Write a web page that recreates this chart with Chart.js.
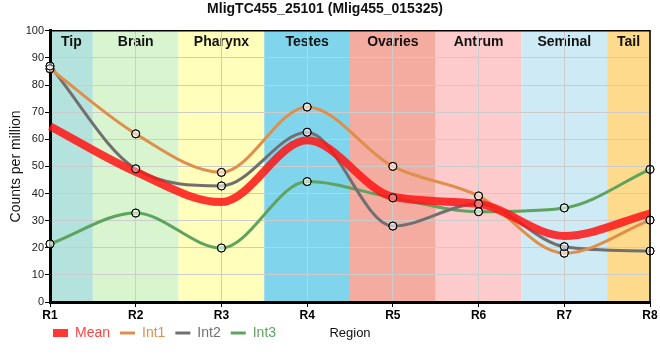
<!DOCTYPE html>
<html>
<head>
<meta charset="utf-8">
<script src="https://cdn.jsdelivr.net/npm/chart.js@4"></script>
<style>
  html, body { margin: 0; padding: 0; background: #fff; }
  #wrap { width: 660px; height: 360px; }
</style>
</head>
<body>
<div id="wrap"><canvas id="chart"></canvas></div>
<script>
const regions = ['R1', 'R2', 'R3', 'R4', 'R5', 'R6', 'R7', 'R8'];
const tissues = ['Tip', 'Brain', 'Pharynx', 'Testes', 'Ovaries', 'Antrum', 'Seminal', 'Tail'];
const tissueColors = ['#b4e3dd', '#d8f5d0', '#ffffbb', '#80d4ec', '#f5aca0', '#fdcbcb', '#ceebf5', '#fdda8c'];

const int1 = [86, 62, 47.8, 71.9, 50, 39.1, 18, 30.2];
const int2 = [87, 49.1, 42.8, 62.6, 28, 36.2, 20.4, 18.8];
const int3 = [21.4, 32.8, 19.9, 44.4, 38.4, 33.3, 34.7, 48.9];
const mean = int1.map((v, i) => (v + int2[i] + int3[i]) / 3);

const yTicks = [0, 10, 20, 30, 40, 50, 60, 70, 80, 90, 100];

const FONT = "'Liberation Sans', Arial, sans-serif";

// coloured tissue bands behind the grid
const bandsPlugin = {
  id: 'bands',
  afterLayout(chart) {
    // legend sits under the plot, starting near the y axis
    chart.legend.left = 43;
    chart.legend.top = chart.chartArea.bottom + 14;
  },
  beforeDraw(chart) {
    const { ctx, chartArea: a, scales: { x } } = chart;
    ctx.save();
    tissues.forEach((name, i) => {
      const l = Math.max(a.left, x.getPixelForValue(i - 0.5));
      const r = Math.min(a.right, x.getPixelForValue(i + 0.5));
      ctx.fillStyle = tissueColors[i];
      ctx.fillRect(l, a.top, r - l, a.bottom - a.top);
      ctx.fillStyle = '#111';
      ctx.font = 'bold 14px ' + FONT;
      ctx.textAlign = 'center';
      ctx.textBaseline = 'middle';
      ctx.fillText(name, (l + r) / 2, a.top + 11);
    });
    ctx.restore();
  },
  afterDatasetsDraw(chart) {
    // circles stay on top of the mean line
    const ctx = chart.ctx;
    chart.data.datasets.forEach((ds, i) => {
      if (ds.label === 'Mean') return;
      chart.getDatasetMeta(i).data.forEach(p => p.draw(ctx, chart.chartArea));
    });
  },
  afterDraw(chart) {
    const { ctx, chartArea: a } = chart;
    ctx.save();
    ctx.strokeStyle = '#000';
    ctx.lineWidth = 1.5;
    ctx.beginPath();
    ctx.moveTo(a.left, a.top);
    ctx.lineTo(a.right, a.top);
    ctx.lineTo(a.right, a.bottom);
    ctx.stroke();
    ctx.fillStyle = '#111';
    ctx.font = '13px ' + FONT;
    ctx.textAlign = 'center';
    ctx.textBaseline = 'middle';
    ctx.fillText('Region', (a.left + a.right) / 2, a.bottom + 31);
    ctx.restore();
  }
};

const lineSet = (label, data, color) => ({
  label,
  data,
  borderColor: color,
  backgroundColor: color,
  borderWidth: 3,
  cubicInterpolationMode: 'monotone',
  pointRadius: 4,
  pointHoverRadius: 4,
  pointBorderColor: '#000',
  pointBorderWidth: 1,
  pointBackgroundColor: 'rgba(255,255,255,0.35)',
  order: 2
});

new Chart(document.getElementById('chart'), {
  type: 'line',
  data: {
    labels: regions,
    datasets: [
      {
        label: 'Mean',
        data: mean,
        borderColor: 'rgba(255,20,20,0.85)',
        backgroundColor: 'rgba(255,20,20,0.85)',
        borderWidth: 8,
        cubicInterpolationMode: 'monotone',
        pointRadius: 0,
        order: 1
      },
      lineSet('Int1', int1, '#df8f4b'),
      lineSet('Int2', int2, '#707070'),
      lineSet('Int3', int3, '#5ea35e')
    ]
  },
  options: {
    responsive: true,
    maintainAspectRatio: false,
    animation: false,
    layout: { padding: { left: 0, right: 10, top: 0, bottom: 2 } },
    plugins: {
      title: {
        display: true,
        text: 'MligTC455_25101 (Mlig455_015325)',
        color: '#111',
        font: { family: FONT, size: 14, weight: 'bold' },
        padding: { top: 1, bottom: 13 }
      },
      legend: {
        position: 'bottom',
        align: 'start',
        labels: {
          usePointStyle: true,
          pointStyleWidth: 15,
          boxHeight: 8,
          padding: 10,
          font: { family: FONT, size: 14 },
          generateLabels(chart) {
            return chart.data.datasets.map((ds, i) => ({
              text: ds.label,
              datasetIndex: i,
              fillStyle: ds.borderColor,
              strokeStyle: ds.borderColor,
              fontColor: ds.label === 'Mean' ? '#ff4444' : ds.borderColor,
              lineWidth: ds.label === 'Mean' ? 0 : 3,
              pointStyle: ds.label === 'Mean' ? 'rect' : 'line'
            }));
          }
        }
      },
      tooltip: { enabled: false }
    },
    scales: {
      x: {
        type: 'category',
        offset: false,
        grid: { color: '#cccccc', tickColor: '#000', tickLength: 5, lineWidth: 1 },
        border: { color: '#000', width: 3 },
        ticks: { color: '#000', font: { family: FONT, size: 12, weight: 'bold' }, padding: 1 },
        afterFit(scale) { scale.height = 22; }
      },
      y: {
        min: 0,
        max: 100,
        afterBuildTicks(scale) { scale.ticks = yTicks.map(v => ({ value: v })); },
        grid: { color: '#cccccc', tickColor: '#000', tickLength: 5 },
        border: { color: '#000', width: 3 },
        ticks: { color: '#222', font: { family: FONT, size: 11 }, padding: 1 },
        title: {
          display: true,
          text: 'Counts per million',
          color: '#111',
          font: { family: FONT, size: 14 },
          padding: { top: 8, bottom: 0 }
        },
        afterFit(scale) { scale.width = 50; }
      }
    }
  },
  plugins: [bandsPlugin]
});
</script>
</body>
</html>
